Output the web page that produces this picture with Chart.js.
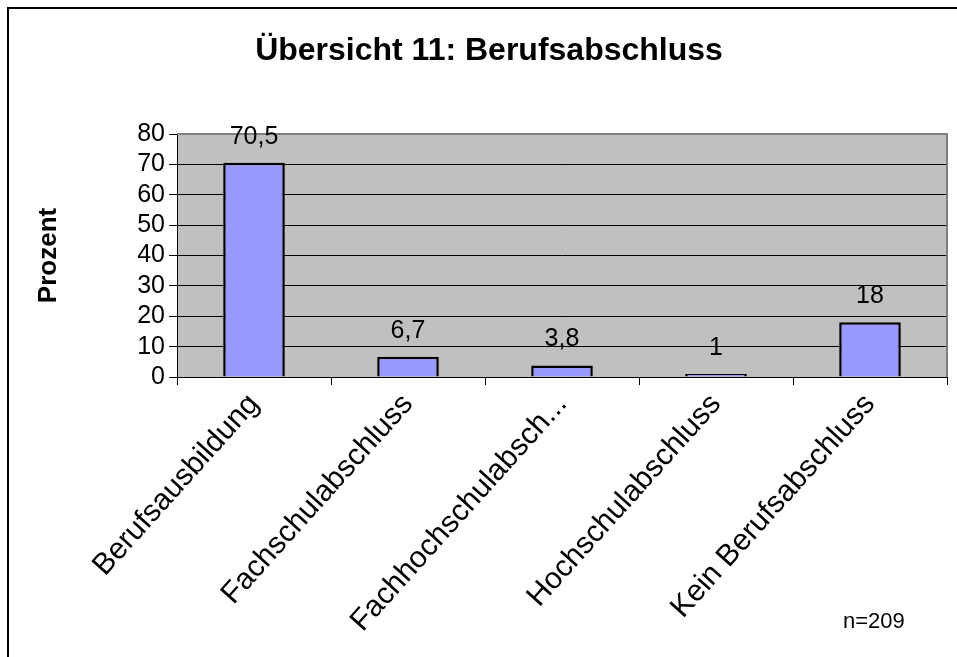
<!DOCTYPE html>
<html>
<head>
<meta charset="utf-8">
<script src="https://cdn.jsdelivr.net/npm/chart.js@4/dist/chart.umd.min.js"></script>
<style>
  html, body { margin: 0; padding: 0; background: #fff; }
  #wrap { width: 957px; height: 657px; }
</style>
</head>
<body>
<div id="wrap"><canvas id="barChart" width="957" height="657"></canvas></div>
<script>
const categories = ['Berufsausbildung', 'Fachschulabschluss', 'Fachhochschulabsch...', 'Hochschulabschluss', 'Kein Berufsabschluss']
const percent = [70.5, 6.7, 3.8, 1, 18]
const yTicks = [0, 10, 20, 30, 40, 50, 60, 70, 80]
const chartTitle = 'Übersicht 11: Berufsabschluss'
const yTitle = 'Prozent'
const note = 'n=209'

const FONT = '"Liberation Sans", Arial, sans-serif'

// Excel-like frame, plot background, title, value labels and n=
const excelLook = {
    id: 'excelLook',
    beforeDraw(chart) {
        const {ctx, chartArea: a} = chart
        ctx.save()
        ctx.fillStyle = '#fff'
        ctx.fillRect(0, 0, chart.width, chart.height)
        ctx.fillStyle = '#c0c0c0'
        ctx.fillRect(a.left, a.top, a.right - a.left, a.bottom - a.top)
        // outer frame (only top and left visible)
        ctx.fillStyle = '#000'
        ctx.fillRect(7, 7, chart.width, 2)
        ctx.fillRect(7, 7, 2, chart.height)
        ctx.restore()
    },
    afterDraw(chart) {
        const {ctx, chartArea: a} = chart
        ctx.save()
        ctx.strokeStyle = '#808080'
        ctx.lineWidth = 2
        ctx.beginPath()
        ctx.moveTo(a.left, a.top)
        ctx.lineTo(a.right, a.top)
        ctx.lineTo(a.right, a.bottom)
        ctx.stroke()

        ctx.fillStyle = '#000'
        ctx.textAlign = 'center'
        ctx.textBaseline = 'middle'
        ctx.font = 'bold 32px ' + FONT
        ctx.fillText(chartTitle, 489, 51)

        ctx.font = '25px ' + FONT
        ctx.textBaseline = 'alphabetic'
        chart.getDatasetMeta(0).data.forEach((bar, i) => {
            ctx.fillText(String(percent[i]).replace('.', ','), bar.x, bar.y - 19)
        })

        ctx.font = '22px ' + FONT
        ctx.textAlign = 'left'
        ctx.fillText(note, 843, 628)
        ctx.restore()
    }
}

new Chart(
    document.getElementById('barChart'),
    {
        type: 'bar',
        data: {
            labels: categories,
            datasets: [
                {
                    label: yTitle,
                    data: percent,
                    backgroundColor: '#9999ff',
                    borderColor: '#000',
                    borderWidth: 2.5,
                    barPercentage: 0.4,
                    categoryPercentage: 1
                }
            ]
        },
        options: {
            responsive: false,
            animation: false,
            layout: {padding: {top: 134, right: 10, left: 0, bottom: 0}},
            plugins: {
                legend: {display: false},
                title: {display: false},
                tooltip: {enabled: false}
            },
            scales: {
                x: {
                    offset: true,
                    afterFit: scale => { scale.height = 280 },
                    grid: {
                        offset: true,
                        drawOnChartArea: false,
                        drawTicks: true,
                        tickLength: 8,
                        tickColor: '#000'
                    },
                    border: {color: '#000', width: 1},
                    ticks: {
                        autoSkip: false,
                        minRotation: 48,
                        maxRotation: 48,
                        padding: 2,
                        color: '#000',
                        font: {family: FONT, size: 30}
                    }
                },
                y: {
                    min: 0,
                    max: 80,
                    afterFit: scale => { scale.width = 177 },
                    afterBuildTicks: scale => { scale.ticks = yTicks.map(v => ({value: v})) },
                    grid: {
                        color: c => c.tick && c.tick.value === 80 ? '#808080' : '#000',
                        tickColor: '#000',
                        tickLength: 8
                    },
                    border: {color: '#000', width: 1},
                    ticks: {
                        autoSkip: false,
                        padding: 4,
                        color: '#000',
                        font: {family: FONT, size: 25}
                    },
                    title: {
                        display: true,
                        text: yTitle,
                        color: '#000',
                        padding: {top: 33, bottom: 0},
                        font: {family: FONT, size: 26, weight: 'bold'}
                    }
                }
            }
        },
        plugins: [excelLook]
    }
);
</script>
</body>
</html>
